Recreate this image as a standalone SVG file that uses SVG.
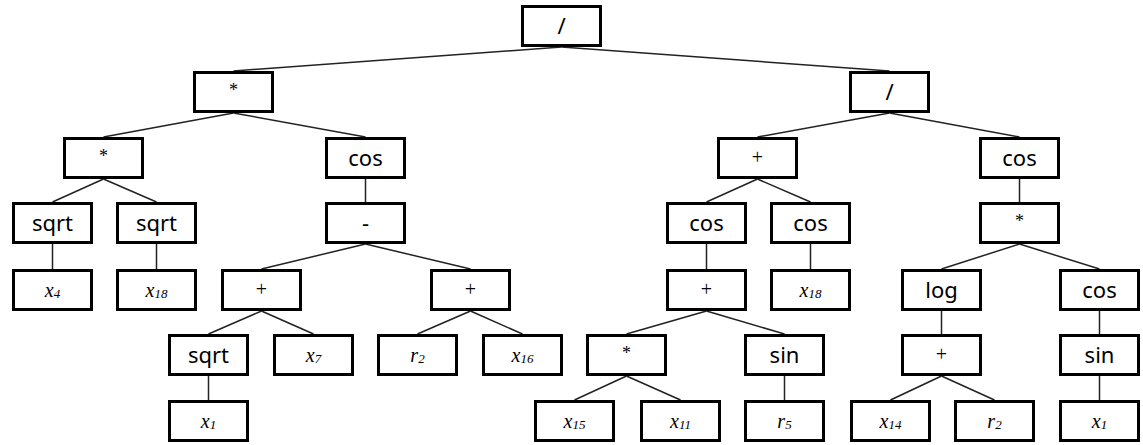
<svg xmlns="http://www.w3.org/2000/svg" width="1143" height="445" viewBox="0 0 1143 445">
<style>
.box{fill:#fff;stroke:#000;stroke-width:3}
.op{font-family:"Noto Sans","DejaVu Sans",sans-serif;font-size:22px;fill:#000;text-anchor:middle}
.sym{font-family:"Liberation Serif","Times New Roman",serif;font-size:20px;fill:#000;text-anchor:middle}
.ast{font-family:"Liberation Serif","Times New Roman",serif;font-size:18px;fill:#000;text-anchor:middle}
.var{font-family:"Liberation Serif","Times New Roman",serif;font-style:italic;font-size:20px;fill:#000;text-anchor:middle}
.sub{font-size:13px}
#edges line{stroke:#222;stroke-width:1.5}
</style>
<rect width="1143" height="445" fill="#fff"/>
<g id="edges">
<line x1="561.5" y1="47" x2="233.5" y2="71"/>
<line x1="561.5" y1="47" x2="889.5" y2="71"/>
<line x1="233.5" y1="113" x2="103.5" y2="137"/>
<line x1="233.5" y1="113" x2="365.5" y2="137"/>
<line x1="889.5" y1="113" x2="757.5" y2="137"/>
<line x1="889.5" y1="113" x2="1019.5" y2="137"/>
<line x1="103.5" y1="179" x2="52.5" y2="202"/>
<line x1="103.5" y1="179" x2="156.5" y2="202"/>
<line x1="365.5" y1="179" x2="365.5" y2="202"/>
<line x1="757.5" y1="179" x2="706.5" y2="202"/>
<line x1="757.5" y1="179" x2="810.5" y2="202"/>
<line x1="1019.5" y1="179" x2="1019.5" y2="202"/>
<line x1="52.5" y1="244" x2="52.5" y2="269"/>
<line x1="156.5" y1="244" x2="156.5" y2="269"/>
<line x1="365.5" y1="244" x2="261.5" y2="269"/>
<line x1="365.5" y1="244" x2="470.5" y2="269"/>
<line x1="706.5" y1="244" x2="706.5" y2="269"/>
<line x1="810.5" y1="244" x2="810.5" y2="269"/>
<line x1="1019.5" y1="244" x2="941.5" y2="269"/>
<line x1="1019.5" y1="244" x2="1099.5" y2="269"/>
<line x1="261.5" y1="311" x2="208.5" y2="334"/>
<line x1="261.5" y1="311" x2="313.5" y2="334"/>
<line x1="470.5" y1="311" x2="417.5" y2="334"/>
<line x1="470.5" y1="311" x2="522.5" y2="334"/>
<line x1="706.5" y1="311" x2="626.5" y2="334"/>
<line x1="706.5" y1="311" x2="784.5" y2="334"/>
<line x1="941.5" y1="311" x2="941.5" y2="334"/>
<line x1="1099.5" y1="311" x2="1099.5" y2="334"/>
<line x1="208.5" y1="376" x2="208.5" y2="400"/>
<line x1="626.5" y1="376" x2="574.5" y2="400"/>
<line x1="626.5" y1="376" x2="680.5" y2="400"/>
<line x1="784.5" y1="376" x2="784.5" y2="400"/>
<line x1="941.5" y1="376" x2="890.5" y2="400"/>
<line x1="941.5" y1="376" x2="994.5" y2="400"/>
<line x1="1099.5" y1="376" x2="1099.5" y2="400"/>
</g>
<g id="n0" transform="translate(521,5)"><rect class="box" x="1.5" y="1.5" width="78" height="39"/><text class="op" x="40.5" y="29">/</text></g>
<g id="n1" transform="translate(193,71)"><rect class="box" x="1.5" y="1.5" width="78" height="39"/><text class="ast" x="40.5" y="25">*</text></g>
<g id="n2" transform="translate(849,71)"><rect class="box" x="1.5" y="1.5" width="78" height="39"/><text class="op" x="40.5" y="29">/</text></g>
<g id="n3" transform="translate(63,137)"><rect class="box" x="1.5" y="1.5" width="78" height="39"/><text class="ast" x="40.5" y="25">*</text></g>
<g id="n4" transform="translate(325,137)"><rect class="box" x="1.5" y="1.5" width="78" height="39"/><text class="op" x="40.5" y="29">cos</text></g>
<g id="n5" transform="translate(717,137)"><rect class="box" x="1.5" y="1.5" width="78" height="39"/><text class="sym" x="40.5" y="27">+</text></g>
<g id="n6" transform="translate(979,137)"><rect class="box" x="1.5" y="1.5" width="78" height="39"/><text class="op" x="40.5" y="29">cos</text></g>
<g id="n7" transform="translate(12,202)"><rect class="box" x="1.5" y="1.5" width="78" height="39"/><text class="op" x="40.5" y="29">sqrt</text></g>
<g id="n8" transform="translate(116,202)"><rect class="box" x="1.5" y="1.5" width="78" height="39"/><text class="op" x="40.5" y="29">sqrt</text></g>
<g id="n9" transform="translate(325,202)"><rect class="box" x="1.5" y="1.5" width="78" height="39"/><text class="op" x="40.5" y="29">-</text></g>
<g id="n10" transform="translate(666,202)"><rect class="box" x="1.5" y="1.5" width="78" height="39"/><text class="op" x="40.5" y="29">cos</text></g>
<g id="n11" transform="translate(770,202)"><rect class="box" x="1.5" y="1.5" width="78" height="39"/><text class="op" x="40.5" y="29">cos</text></g>
<g id="n12" transform="translate(979,202)"><rect class="box" x="1.5" y="1.5" width="78" height="39"/><text class="ast" x="40.5" y="25">*</text></g>
<g id="n13" transform="translate(12,269)"><rect class="box" x="1.5" y="1.5" width="78" height="39"/><text class="var" x="40.5" y="28">x<tspan class="sub" dy="1">4</tspan></text></g>
<g id="n14" transform="translate(116,269)"><rect class="box" x="1.5" y="1.5" width="78" height="39"/><text class="var" x="40.5" y="28">x<tspan class="sub" dy="1">18</tspan></text></g>
<g id="n15" transform="translate(221,269)"><rect class="box" x="1.5" y="1.5" width="78" height="39"/><text class="sym" x="40.5" y="27">+</text></g>
<g id="n16" transform="translate(430,269)"><rect class="box" x="1.5" y="1.5" width="78" height="39"/><text class="sym" x="40.5" y="27">+</text></g>
<g id="n17" transform="translate(666,269)"><rect class="box" x="1.5" y="1.5" width="78" height="39"/><text class="sym" x="40.5" y="27">+</text></g>
<g id="n18" transform="translate(770,269)"><rect class="box" x="1.5" y="1.5" width="78" height="39"/><text class="var" x="40.5" y="28">x<tspan class="sub" dy="1">18</tspan></text></g>
<g id="n19" transform="translate(901,269)"><rect class="box" x="1.5" y="1.5" width="78" height="39"/><text class="op" x="40.5" y="29">log</text></g>
<g id="n20" transform="translate(1059,269)"><rect class="box" x="1.5" y="1.5" width="78" height="39"/><text class="op" x="40.5" y="29">cos</text></g>
<g id="n21" transform="translate(168,334)"><rect class="box" x="1.5" y="1.5" width="78" height="39"/><text class="op" x="40.5" y="29">sqrt</text></g>
<g id="n22" transform="translate(273,334)"><rect class="box" x="1.5" y="1.5" width="78" height="39"/><text class="var" x="40.5" y="28">x<tspan class="sub" dy="1">7</tspan></text></g>
<g id="n23" transform="translate(377,334)"><rect class="box" x="1.5" y="1.5" width="78" height="39"/><text class="var" x="40.5" y="28">r<tspan class="sub" dy="1">2</tspan></text></g>
<g id="n24" transform="translate(482,334)"><rect class="box" x="1.5" y="1.5" width="78" height="39"/><text class="var" x="40.5" y="28">x<tspan class="sub" dy="1">16</tspan></text></g>
<g id="n25" transform="translate(586,334)"><rect class="box" x="1.5" y="1.5" width="78" height="39"/><text class="ast" x="40.5" y="25">*</text></g>
<g id="n26" transform="translate(744,334)"><rect class="box" x="1.5" y="1.5" width="78" height="39"/><text class="op" x="40.5" y="29">sin</text></g>
<g id="n27" transform="translate(901,334)"><rect class="box" x="1.5" y="1.5" width="78" height="39"/><text class="sym" x="40.5" y="27">+</text></g>
<g id="n28" transform="translate(1059,334)"><rect class="box" x="1.5" y="1.5" width="78" height="39"/><text class="op" x="40.5" y="29">sin</text></g>
<g id="n29" transform="translate(168,400)"><rect class="box" x="1.5" y="1.5" width="78" height="39"/><text class="var" x="40.5" y="28">x<tspan class="sub" dy="1">1</tspan></text></g>
<g id="n30" transform="translate(534,400)"><rect class="box" x="1.5" y="1.5" width="78" height="39"/><text class="var" x="40.5" y="28">x<tspan class="sub" dy="1">15</tspan></text></g>
<g id="n31" transform="translate(640,400)"><rect class="box" x="1.5" y="1.5" width="78" height="39"/><text class="var" x="40.5" y="28">x<tspan class="sub" dy="1">11</tspan></text></g>
<g id="n32" transform="translate(744,400)"><rect class="box" x="1.5" y="1.5" width="78" height="39"/><text class="var" x="40.5" y="28">r<tspan class="sub" dy="1">5</tspan></text></g>
<g id="n33" transform="translate(850,400)"><rect class="box" x="1.5" y="1.5" width="78" height="39"/><text class="var" x="40.5" y="28">x<tspan class="sub" dy="1">14</tspan></text></g>
<g id="n34" transform="translate(954,400)"><rect class="box" x="1.5" y="1.5" width="78" height="39"/><text class="var" x="40.5" y="28">r<tspan class="sub" dy="1">2</tspan></text></g>
<g id="n35" transform="translate(1059,400)"><rect class="box" x="1.5" y="1.5" width="78" height="39"/><text class="var" x="40.5" y="28">x<tspan class="sub" dy="1">1</tspan></text></g>
</svg>
